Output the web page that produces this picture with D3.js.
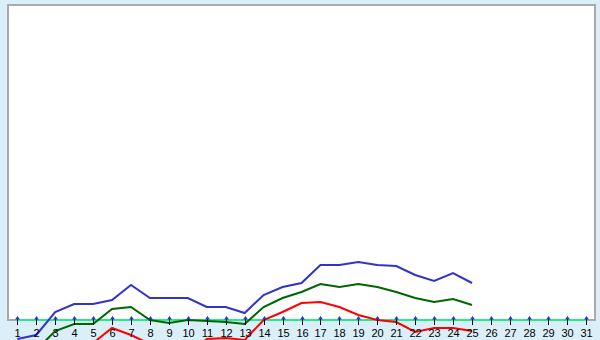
<!DOCTYPE html>
<html>
<head>
<meta charset="utf-8">
<script src="https://cdn.jsdelivr.net/npm/d3@7"></script>
<style>
  body { margin: 0; background: #daeff7; }
  svg { display: block; }
</style>
</head>
<body>
<div id="vis-container"></div>
<script>
// days of the month on the x axis
let days = d3.range(1, 32);

// three series, values (only days 1..25 have data)
let blueValues  = [-19, -15, 8, 16, 16, 20, 35, 22, 22, 22, 13, 13, 7, 25, 33, 37, 55, 55, 58, 55, 54, 45, 39, 47, 37];
let greenValues = [-35, -30, -11, -4, -4, 11, 13, 0, -3, 0, -1, -2, -4, 13, 22, 28, 36, 33, 36, 33, 28, 22, 18, 21, 15];
let redValues   = [-60, -50, -40, -30, -23, -8, -15, -24, -30, -35, -19, -18, -20, 0, 8, 17, 18, 13, 5, 0, -2, -12, -8, -8, -11];

let series = [
  {name: "blue",  values: blueValues,  color: "#3333cc"},
  {name: "green", values: greenValues, color: "#006600"},
  {name: "red",   values: redValues,   color: "#ff0000"}
];

let width = 600, height = 340;
let plot = {left: 8, top: 5, right: 595, bottom: 320};

let svg = d3.select("#vis-container")
            .append("svg")
            .attr("width", width)
            .attr("height", height);

let x = d3.scaleLinear()
          .domain([1, 31])
          .range([17.3, 585.7]);

let y = d3.scaleLinear()
          .domain([0, 315])
          .range([320, 5]);

// white plotting area with grey frame
svg.append("rect")
   .attr("x", plot.left)
   .attr("y", plot.top)
   .attr("width", plot.right - plot.left)
   .attr("height", plot.bottom - plot.top)
   .attr("fill", "white")
   .attr("stroke", "#aaaaaa")
   .attr("stroke-width", 2);

// zero line
svg.append("line")
   .attr("x1", x(1))
   .attr("x2", x(31))
   .attr("y1", y(0))
   .attr("y2", y(0))
   .attr("stroke", "#22ee88")
   .attr("stroke-width", 2);

let line = d3.line()
             .x((d, i) => x(days[i]))
             .y(d => y(d));

svg.selectAll(".series")
   .data(series)
   .enter()
   .append("path")
     .attr("class", "series")
     .attr("fill", "none")
     .attr("stroke", d => d.color)
     .attr("stroke-width", 2)
     .attr("d", d => line(d.values));

// tick markers (little arrows) + day labels
let ticks = svg.selectAll(".tick")
   .data(days)
   .enter()
   .append("g")
     .attr("class", "tick")
     .attr("transform", d => `translate(${Math.round(x(d)) + 0.5}, ${y(0)})`);

ticks.append("line")
     .attr("y1", -3)
     .attr("y2", 5)
     .attr("stroke", "#000033")
     .attr("stroke-width", 1);

ticks.append("path")
     .attr("d", "M-2.5,-0.5 L0,-4 L2.5,-0.5 Z")
     .attr("fill", "#3333cc");

ticks.append("text")
     .attr("y", 17)
     .attr("text-anchor", "middle")
     .attr("font-family", "'Liberation Sans', Arial, sans-serif")
     .attr("font-size", "11px")
     .attr("fill", "black")
     .text(d => d);
</script>
</body>
</html>
